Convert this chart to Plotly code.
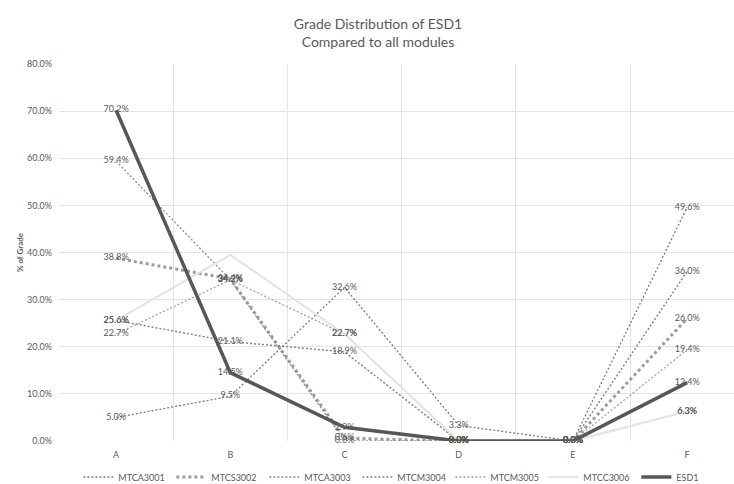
import plotly.graph_objects as go

grades = ["A", "B", "C", "D", "E", "F"]

mtca3001 = [5.0, 9.5, 32.6, 3.3, 0.0, 49.6]
mtcs3002 = [38.8, 34.4, 0.6, 0.0, 0.0, 26.0]
mtca3003 = [59.4, 34.2, 0.0, 0.0, 0.0, 6.3]
mtcm3004 = [25.6, 21.1, 18.9, 0.0, 0.0, 36.0]
mtcm3005 = [22.7, 34.2, 22.7, 0.0, 0.0, 19.4]
mtcc3006 = [25.6, 39.5, 22.7, 0.0, 0.0, 6.3]
esd1 = [70.2, 14.5, 2.9, 0.0, 0.0, 12.4]

# grades whose data label is switched off, per series
hidden_labels = {"MTCC3006": ["B"]}

y_ticks = [0, 10, 20, 30, 40, 50, 60, 70, 80]

FONT = "Lato, 'Open Sans', sans-serif"
TXT = "#595959"

series = [
    ("MTCA3001", mtca3001, dict(color="#7a7a7a", width=1.3, dash="2px,2px")),
    ("MTCS3002", mtcs3002, dict(color="#9c9c9c", width=3, dash="3px,3px")),
    ("MTCA3003", mtca3003, dict(color="#8c8c8c", width=1.3, dash="2px,2px")),
    ("MTCM3004", mtcm3004, dict(color="#858585", width=1.5, dash="2px,2px")),
    ("MTCM3005", mtcm3005, dict(color="#a3a3a3", width=1.3, dash="2px,2px")),
    ("MTCC3006", mtcc3006, dict(color="#e4e4e4", width=2.2)),
    ("ESD1", esd1, dict(color="#575757", width=3.5)),
]

fig = go.Figure()
for name, vals, line in series:
    skip = hidden_labels.get(name, [])
    labels = ["" if g in skip else f"{v:.1f}%" for g, v in zip(grades, vals)]
    fig.add_trace(go.Scatter(
        x=grades, y=vals, name=name, mode="lines+text",
        line=line,
        text=labels,
        textposition="middle center",
        textfont=dict(family=FONT, size=9, color=TXT),
        cliponaxis=False,
    ))

fig.update_layout(
    width=734, height=484,
    margin=dict(l=59, r=0, t=63.5, b=42.5),
    paper_bgcolor="white", plot_bgcolor="white",
    font=dict(family=FONT, color=TXT),
    title=dict(
        text="Grade Distribution of ESD1<br>Compared to all modules",
        x=378 / 734, xanchor="center", y=1 - 29 / 484, yanchor="middle",
        font=dict(family=FONT, size=14, color=TXT),
    ),
    legend=dict(
        orientation="h", x=375 / 734, xanchor="center",
        yref="container", y=1 - 477 / 484, yanchor="middle",
        font=dict(family=FONT, size=9, color=TXT),
        itemwidth=30, entrywidth=48, entrywidthmode="pixels",
        tracegroupgap=0,
    ),
    showlegend=True,
)

fig.update_xaxes(
    type="category", range=[-0.5, 5.41], tickson="boundaries",
    showgrid=True, gridcolor="#e4e4e4", gridwidth=1,
    ticks="", showline=False, zeroline=False,
    ticklabelstandoff=7,
    tickfont=dict(family=FONT, size=9, color=TXT),
)
fig.update_yaxes(
    range=[0, 80], tickvals=y_ticks,
    ticktext=[f"{v:.1f}%" for v in y_ticks],
    showgrid=True, gridcolor="#e4e4e4", gridwidth=1,
    zeroline=False, showline=False, ticks="",
    ticklabelstandoff=6,
    tickfont=dict(family=FONT, size=9, color=TXT),
    title=dict(text="<b>% of Grade</b>", standoff=2,
               font=dict(family=FONT, size=8, color=TXT)),
)

fig.write_html("out.html")
